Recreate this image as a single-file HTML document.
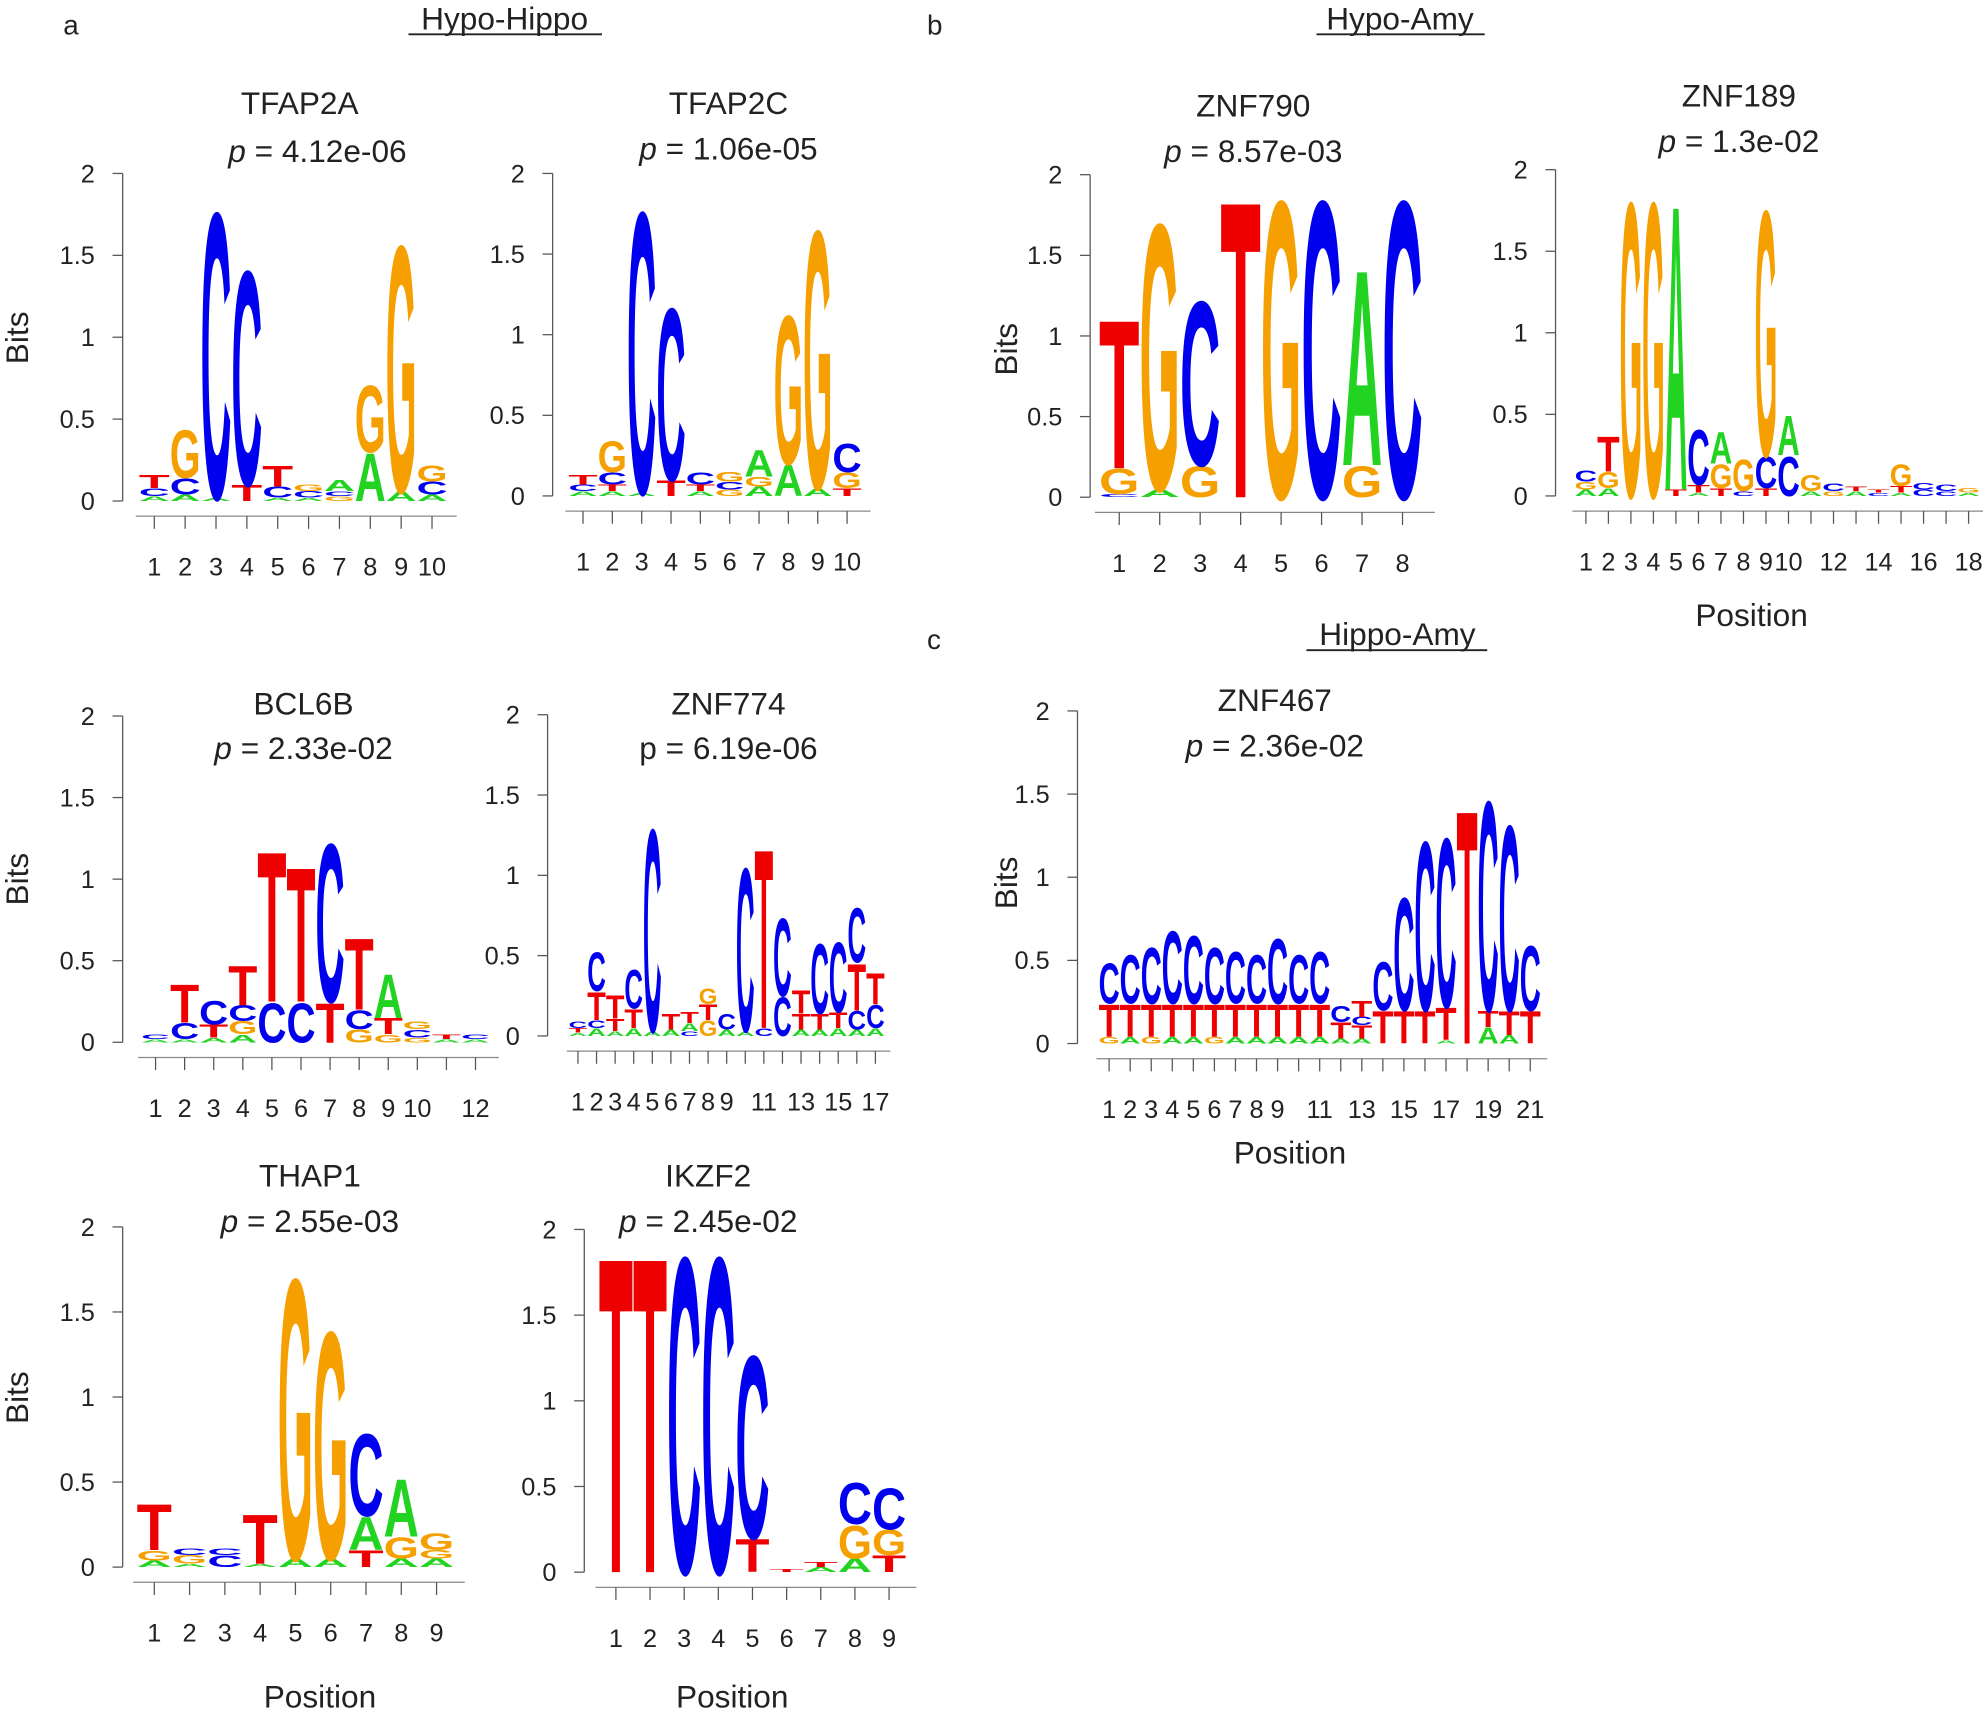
<!DOCTYPE html>
<html><head><meta charset="utf-8"><style>
html,body{margin:0;padding:0;background:#fff}
svg{display:block}
text{font-family:"Liberation Sans",sans-serif}
</style></head><body>
<svg id="s" width="1983" height="1714" viewBox="0 0 1568 1355" xmlns="http://www.w3.org/2000/svg">
<g font-size="22" fill="#222">
<text x="50" y="27">a</text><text x="733" y="27">b</text><text x="733" y="513">c</text>
<text x="399" y="23" text-anchor="middle" font-size="25">Hypo-Hippo</text>
<line x1="323" y1="27" x2="476" y2="27" stroke="#222" stroke-width="1.5"/>
<text x="1107" y="23" text-anchor="middle" font-size="25">Hypo-Amy</text>
<line x1="1041" y1="27" x2="1174" y2="27" stroke="#222" stroke-width="1.5"/>
<text x="1105" y="510" text-anchor="middle" font-size="25">Hippo-Amy</text>
<line x1="1033" y1="514" x2="1176" y2="514" stroke="#222" stroke-width="1.5"/>
</g>
<g font-size="25" fill="#222" text-anchor="middle">
<text x="237" y="90">TFAP2A</text><text x="251" y="128"><tspan font-style="italic">p</tspan> = 4.12e-06</text>
<text x="576" y="90">TFAP2C</text><text x="576" y="126"><tspan font-style="italic">p</tspan> = 1.06e-05</text>
<text x="991" y="92">ZNF790</text><text x="991" y="128"><tspan font-style="italic">p</tspan> =  8.57e-03</text>
<text x="1375" y="84">ZNF189</text><text x="1375" y="120"><tspan font-style="italic">p</tspan> = 1.3e-02</text>
<text x="240" y="565">BCL6B</text><text x="240" y="600"><tspan font-style="italic">p</tspan> = 2.33e-02</text>
<text x="576" y="565">ZNF774</text><text x="576" y="600">p = 6.19e-06</text>
<text x="1008" y="562">ZNF467</text><text x="1008" y="598"><tspan font-style="italic">p</tspan> =  2.36e-02</text>
<text x="245" y="938">THAP1</text><text x="245" y="974"><tspan font-style="italic">p</tspan> =  2.55e-03</text>
<text x="560" y="938">IKZF2</text><text x="560" y="974"><tspan font-style="italic">p</tspan> =  2.45e-02</text>
<text x="1385" y="495">Position</text><text x="1020" y="920">Position</text>
<text x="253" y="1350">Position</text><text x="579" y="1350">Position</text>
<text transform="translate(22,267) rotate(-90)">Bits</text>
<text transform="translate(22,695) rotate(-90)">Bits</text>
<text transform="translate(22,1105) rotate(-90)">Bits</text>
<text transform="translate(804,276) rotate(-90)">Bits</text>
<text transform="translate(804,698) rotate(-90)">Bits</text>
</g>
<g id="g"></g>
</svg>
<script>
var col={A:"#22d322",C:"#0000ee",G:"#f5a000",T:"#ee0000"};
var P=[
{ax:97,y0:396,y2:137,x1:122,dx:24.4,n:10,lab:[1,2,3,4,5,6,7,8,9,10],
 s:["A.03C.05T.08","A.04C.1G.3","A.02C1.8","T.1C1.35","A.02C.07T.13","A.02C.04G.04","G.03C.03A.07","A.3G.42","A.06G1.55","A.04C.08G.1"]},
{ax:437,y0:392,y2:137,x1:461,dx:23.2,n:10,lab:[1,2,3,4,5,6,7,8,9,10],
 s:["A.03C.04T.06","A.03T.04C.08G.2","A.02C1.8","T.1C1.1","A.03T.04C.08","G.04C.05G.06","A.06G.06A.17","A.2G.95","A.05G1.65","T.05G.1C.18"]},
{ax:862,y0:393,y2:138,x1:885,dx:32,n:8,lab:[1,2,3,4,5,6,7,8],
 s:["C.02G.16T.95","A.05G1.7","G.2C1.05","T1.9","G1.9","C1.9","G.2A1.25","C1.9"]},
{ax:1230,y0:392,y2:134,x1:1254,dx:17.8,n:18,lab:[1,2,3,4,5,6,7,8,9,10,"",12,"",14,"",16,"",18],
 s:["A.04G.05C.07","A.05G.1T.22","G1.86","G1.86","T.04A1.8","A.02T.05C.35","T.05G.15A.2","C.03G.2","T.05C.2G1.55","C.25A.25","A.03G.1","G.03C.05","A.03T.03","C.02T.02","A.02T.04G.14","C.04C.04","C.03C.04","A.02G.03"]},
{ax:97,y0:824,y2:566,x1:123,dx:23,n:12,lab:[1,2,3,4,5,6,7,8,9,10,"",12],
 s:["A.02C.03","A.02C.1T.24","A.03T.08C.15","A.05G.08C.1T.25","C.25T.95","C.25T.85","T.25C1.0","G.08C.12T.45","G.05T.1A.28","G.03C.05G.05","A.02T.03","A.02C.03"]},
{ax:433,y0:819,y2:565,x1:457,dx:14.7,n:17,lab:[1,2,3,4,5,6,7,8,9,"",11,"",13,"",15,"",17],
 s:["A.02T.03C.04","A.05C.05T.18C.25","A.03T.08T.15","A.05T.12C.25","A.03C1.3","A.04T.1","C.03A.05T.07","G.1T.1G.1","A.04C.1","A.03C1.05","C.05T1.15","C.25C.5","A.04T.1T.15","A.04T.1C.45","A.05T.1C.45","A.04C.12T.3C.35","A.05C.15T.2"]},
{ax:852,y0:825,y2:562,x1:877,dx:16.65,n:21,lab:[1,2,3,4,5,6,7,8,9,"",11,"",13,"",15,"",17,"",19,"",21],
 s:["G.04T.2C.25","A.04T.2C.3","G.04T.2C.35","A.04T.2C.45","A.04T.2C.42","G.04T.2C.35","A.04T.2C.32","A.04T.2C.3","A.04T.2C.4","A.04T.2C.3","A.04T.2C.32","A.03T.1C.1","A.03T.08C.05T.1","T.2C.3","T.2C.7","T.2C1.05","A.02T.2C1.05","T1.45","A.1T.1C1.3","A.05T.15C1.15","T.2C.4"]},
{ax:97,y0:1239,y2:970,x1:122,dx:27.9,n:9,lab:[1,2,3,4,5,6,7,8,9],
 s:["A.04G.06T.28","A.02G.05C.04","C.07C.04","A.02T.3","A.05G1.7","A.05G1.38","T.1A.2C.5","A.05G.13A.35","A.05G.05G.1"]},
{ax:462,y0:1243,y2:972,x1:487,dx:27,n:9,lab:[1,2,3,4,5,6,7,8,9],
 s:["T1.9","T1.9","C1.9","C1.9","T.2C1.1","T.02","A.03T.03","A.08G.2C.25","T.1G.15C.25"]}
];
var g=document.getElementById("g"),h="";
P.forEach(function(p){
 var k=(p.y0-p.y2)/2, xe=p.x1+(p.n-1)*p.dx+p.dx*0.8;
 h+='<line x1="'+p.ax+'" y1="'+p.y2+'" x2="'+p.ax+'" y2="'+p.y0+'" stroke="#555"/>';
 [0,0.5,1,1.5,2].forEach(function(v){var y=p.y0-v*k;
  h+='<line x1="'+(p.ax-8)+'" y1="'+y+'" x2="'+p.ax+'" y2="'+y+'" stroke="#555"/>';
  h+='<text x="'+(p.ax-22)+'" y="'+(y+7)+'" font-size="20" text-anchor="end" fill="#222">'+v+'</text>';});
 var ya=p.y0+12;
 h+='<line x1="'+(p.x1-p.dx*0.6)+'" y1="'+ya+'" x2="'+xe+'" y2="'+ya+'" stroke="#888"/>';
 for(var i=0;i<p.n;i++){var x=p.x1+i*p.dx;
  h+='<line x1="'+x+'" y1="'+ya+'" x2="'+x+'" y2="'+(ya+10)+'" stroke="#555"/>';
  h+='<text x="'+x+'" y="'+(ya+47)+'" font-size="20" text-anchor="middle" fill="#222">'+p.lab[i]+'</text>';
  var y=p.y0,w=p.dx*1.0,re=/([ACGT])([\d.]+)/g,m;
  while((m=re.exec(p.s[i]))){var hh=parseFloat(m[2])*k;
   h+='<text transform="translate('+(x-w/2)+','+y+') scale('+(w/70)+','+(hh/72)+')" font-size="100" font-weight="bold" textLength="70" lengthAdjust="spacingAndGlyphs" fill="'+col[m[1]]+'">'+m[1]+'</text>';
   y-=hh;}
 }
});
g.innerHTML=h;
</script>
</body></html>
